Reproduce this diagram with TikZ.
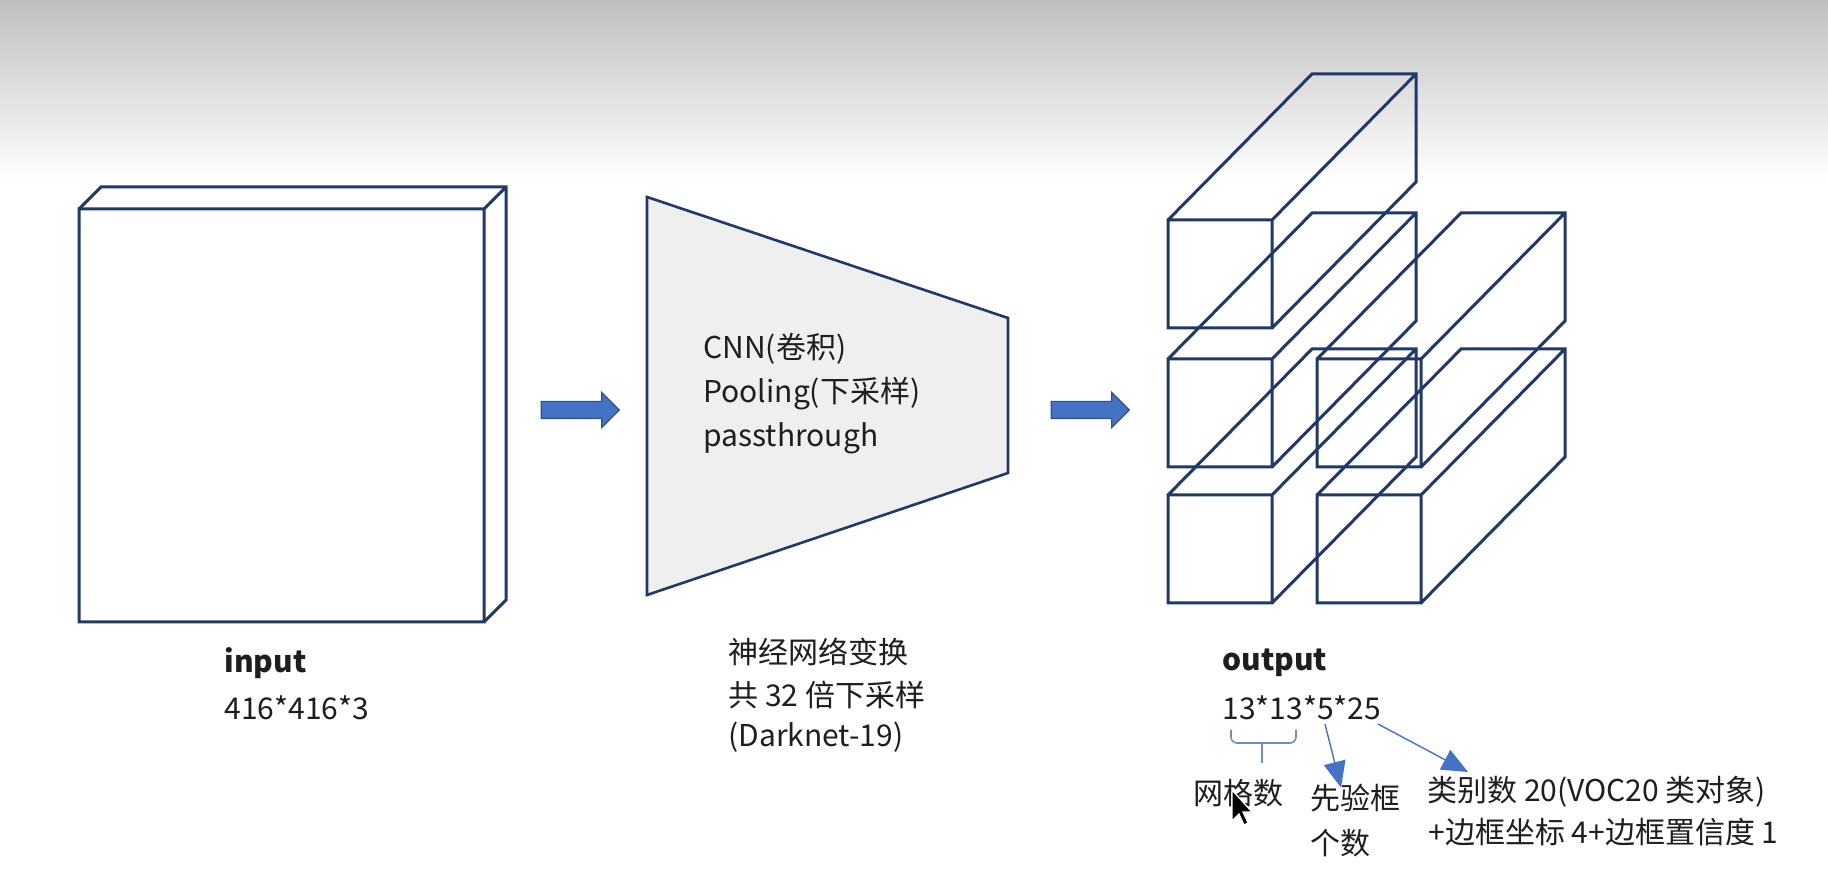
\documentclass[tikz,border=0pt]{standalone}
\usepackage{fontspec}
\setmainfont{Noto Sans CJK SC}
\usetikzlibrary{arrows.meta, shapes.arrows, positioning}

\definecolor{edgenavy}{RGB}{33,57,104}
\definecolor{funnelgray}{RGB}{239,239,239}
\definecolor{flowblue}{RGB}{68,114,196}
\definecolor{flowedge}{RGB}{47,82,143}
\definecolor{inkgray}{RGB}{30,30,30}

\begin{document}
\begin{tikzpicture}[x=0.5pt, y=-0.5pt,
        % Wireframe edges of the tensors
        wire/.style={
            draw=edgenavy,
            line width=1.5pt,
            line join=miter
        },
        % Grey funnel for the network
        funnel/.style={
            wire,
            fill=funnelgray,
            line width=1.3pt
        },
        % Fat blue arrows between the stages
        flow/.style={
            single arrow,
            draw=flowedge,
            fill=flowblue,
            line width=0.6pt,
            minimum height=39pt,
            inner xsep=0pt,
            inner ysep=4pt,
            single arrow head extend=4.5pt
        },
        % Plain labels
        txt/.style={
            anchor=west,
            inner sep=0pt,
            text=inkgray,
            font=\fontsize{15}{18}\selectfont
        },
        % Bold titles
        ttl/.style={
            txt,
            font=\fontsize{15}{18}\selectfont\bfseries
        },
        % Thin annotation arrows
        note/.style={
            draw=flowblue,
            line width=0.7pt,
            -{Triangle[length=13pt, width=11pt]}
        },
        % Bracket under the grid size
        bracket/.style={
            draw=flowblue!80,
            line width=0.8pt,
            rounded corners=3pt
        }
    ]

        % Page and grey band at the top
        \useasboundingbox (0,0) rectangle (1828,871);
        \fill[white] (0,0) rectangle (1828,871);
        \shade[top color=gray!50, bottom color=white] (0,0) rectangle (1828,180);

        % Input image as a thin slab
        \draw[wire] (79,622) rectangle (484,209)
            (79,209) -- (101,187) -- (506,187) -- (506,600) -- (484,622)
            (484,209) -- (506,187);

        % Network funnel
        \draw[funnel] (647,197) -- (1008,318) -- (1008,473) -- (647,595) -- cycle;
        \node[txt] (cnn1) at (703,349) {CNN(卷积)};
        \node[txt] (cnn2) at (703,394) {Pooling(下采样)};
        \node[txt] (cnn3) at (703,438) {passthrough};

        % Output grid of prisms
        \foreach \px/\py in {1168/328, 1168/467, 1168/603, 1317/467, 1317/603}{
            \draw[wire] (\px,\py) rectangle ++(104,-108)
                (\px,{\py-108}) -- ++(144,-146) -- ++(104,0) -- ++(0,108) -- ++(-144,146)
                ({\px+104},{\py-108}) -- ++(144,-146);
        }

        % Stage arrows
        \node[flow] (flow1) at (576,410) {};
        \node[flow] (flow2) at (1086,410) {};

        % Captions
        \node[ttl] (inlbl) at (224,663) {input};
        \node[txt] (insize) at (224,708) {416*416*3};
        \node[txt] (net1) at (728,652) {神经网络变换};
        \node[txt] (net2) at (728,695) {共 32 倍下采样};
        \node[txt] (net3) at (728,737) {(Darknet-19)};
        \node[ttl] (outlbl) at (1222,663) {output};
        \node[txt] (outsize) at (1222,708) {13*13*5*25};

        % Meaning of each factor
        \node[txt] (grid) at (1193,793) {网格数};
        \node[txt] (prior1) at (1310,798) {先验框};
        \node[txt] (prior2) at (1310,843) {个数};
        \node[txt] (cls1) at (1427,792) {类别数 20(VOC20 类对象)};
        \node[txt] (cls2) at (1428,832) {+边框坐标 4+边框置信度 1};

        \coordinate (five) at (1325,724);
        \coordinate (twofive) at (1378,724);

        \draw[bracket] (1231,730) -- (1231,743) -- (1296,743) -- (1296,730);
        \draw[bracket] (1262,743) -- (1262,763);
        \draw[note] (five) -- ([xshift=15.5pt, yshift=-2pt]prior1.north west);
        \draw[note] (twofive) -- ([xshift=20.5pt, yshift=2pt]cls1.north west);

        % Mouse pointer
        \filldraw[fill=black, draw=white, line width=0.6pt] (1232,790) -- ++(0,31) -- ++(7,-7)
            -- ++(5,11) -- ++(4,-2) -- ++(-5,-11) -- ++(9,0) -- cycle;

\end{tikzpicture}
\end{document}
